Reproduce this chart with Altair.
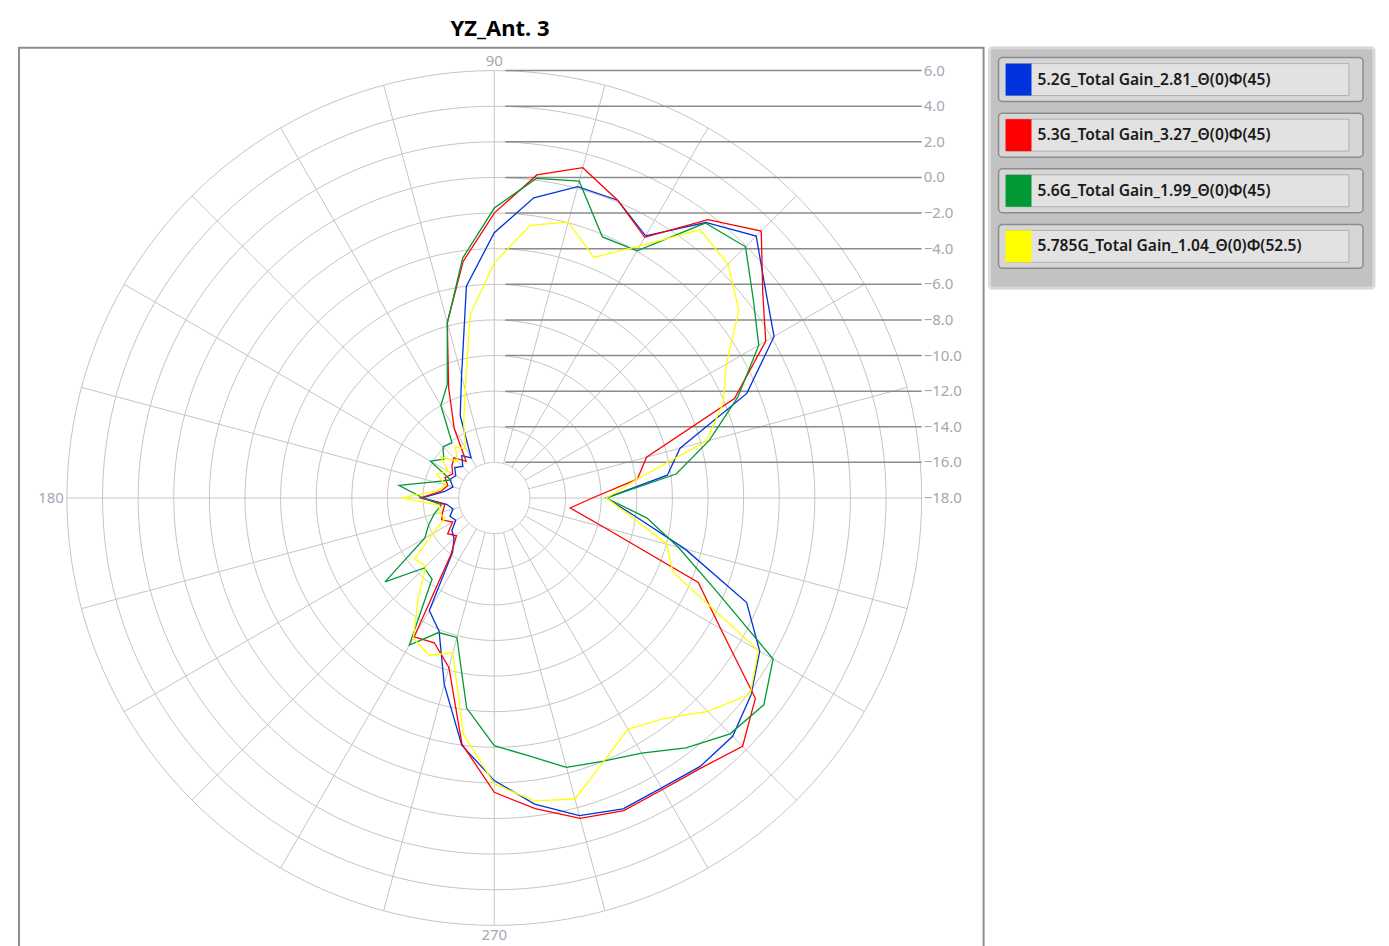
import pandas as pd
import altair as alt

# ---------------- data ----------------
angles = [0, 7.5, 15, 22.5, 30, 37.5, 45, 52.5, 60, 67.5, 75, 82.5,
          90, 97.5, 105, 112.5, 120, 127.5, 135, 142.5, 150, 157.5, 165, 172.5,
          180, 187.5, 195, 202.5, 210, 217.5, 225, 232.5, 240, 247.5, 255, 262.5,
          270, 277.5, 285, 292.5, 300, 307.5, 315, 322.5, 330, 337.5, 345, 352.5]

gain_52 = [-11.7, -8.2, -7.2, -2.65, 0.14, 1.2, 2.8, 1.5, -1.0, 0.1, 0.1, -1.0,
           -3.1, -6.0, -10.9, -13.0, -15.4, -15.0, -15.5, -15.2, -15.5, -15.3, -15.6, -15.2,
           -13.95, -15.3, -15.6, -15.3, -15.5, -15.0, -14.8, -14.15, -10.7, -9.9, -7.15, -4.0,
           -2.13, -0.66, 0.47, 0.9, 0.8, 1.0, 0.93, 0.17, -0.79, -2.66, -6.9, -10.0]

gain_53 = [-12.5, -9.9, -9.15, -3.4, -0.4, 1.0, 3.2, 1.7, -1.1, 0.1, 1.2, 0.3,
           -2.0, -4.6, -7.8, -11.3, -13.5, -15.4, -14.8, -15.0, -15.3, -15.0, -15.3, -15.0,
           -13.85, -15.2, -15.0, -14.8, -15.3, -14.7, -15.0, -14.0, -9.0, -9.2, -8.15, -4.07,
           -1.47, -0.4, 0.63, 1.0, 0.9, 1.1, 1.72, 0.48, -3.32, -5.6, -11.6, -13.7]

gain_56 = [-11.7, -7.7, -5.5, -3.2, -0.85, 0.33, 1.95, 1.46, -1.97, -2.13, 0.42, 0.1,
           -1.72, -4.41, -7.82, -11.1, -12.0, -14.1, -13.93, -14.42, -13.86, -15.35, -14.5, -12.6,
           -14.0, -15.0, -14.5, -14.0, -13.5, -10.26, -12.44, -12.26, -8.46, -9.82, -9.89, -6.1,
           -4.09, -3.4, -2.34, -2.0, -1.46, -0.31, 0.73, 1.08, 0.08, -4.59, -7.3, -9.35]

gain_5785 = [-11.7, -9.9, -5.67, -4.09, -2.95, -0.69, 0.56, 0.98, -1.66, -3.38, -1.96, -2.56,
             -4.8, -7.61, -11.7, -13.5, -14.8, -14.4, -15.1, -14.2, -15.0, -14.5, -15.2, -14.8,
             -12.8, -14.9, -14.8, -15.0, -14.0, -12.37, -12.57, -11.0, -8.91, -8.44, -9.0, -4.64,
             -1.94, -0.84, -0.5, -1.97, -3.0, -2.39, -1.05, 0.11, -0.87, -7.15, -7.97, -10.3]

series_names = ["5.2G_Total Gain_2.81_Θ(0)Φ(45)",
                "5.3G_Total Gain_3.27_Θ(0)Φ(45)",
                "5.6G_Total Gain_1.99_Θ(0)Φ(45)",
                "5.785G_Total Gain_1.04_Θ(0)Φ(52.5)"]
series_colors = ["#0033dd", "#ff0000", "#009933", "#ffff00"]
series_gains = [gain_52, gain_53, gain_56, gain_5785]

ring_levels = [-16, -14, -12, -10, -8, -6, -4, -2, 0, 2, 4, 6]
label_levels = [6, 4, 2, 0, -2, -4, -6, -8, -10, -12, -14, -16, -18]
spoke_angles = [0, 15, 30, 45, 60, 75, 90, 105, 120, 135, 150, 165,
                180, 195, 210, 225, 240, 255, 270, 285, 300, 315, 330, 345]
angle_labels = ["90", "180", "270"]

R_MIN = -18.0          # gain at the centre of the polar plot
FONT = "Noto Sans"
LABEL_GRAY = "#a6a6b4"

# ---------------- tables ----------------
rows = []
for name, gains in zip(series_names, series_gains):
    for a, g in zip(angles, gains):
        rows.append({"series": name, "angle": a, "gain": g})
df = pd.DataFrame(rows)

ring_df = pd.DataFrame([{"level": lv, "a": a} for lv in ring_levels for a in range(0, 361, 2)])
spoke_df = pd.DataFrame({"a": spoke_angles})
lab_df = pd.DataFrame({"level": label_levels})
ang_df = pd.DataFrame({"txt": angle_labels, "a": [90, 180, 270]})

# scale: 1 unit = 1 dB; 428 px for 24 dB
K = 428 / 24
XS = alt.Scale(domain=[-476 / K, 490 / K], nice=False, zero=False)
YS = alt.Scale(domain=[-459 / K, 451 / K], nice=False, zero=False)
COL = alt.Scale(domain=series_names, range=series_colors)

rings = alt.Chart(ring_df).transform_calculate(
    r=f"datum.level - ({R_MIN})"
).transform_calculate(
    px="datum.r*cos(datum.a*PI/180)", py="datum.r*sin(datum.a*PI/180)"
).mark_line(color="#c4c4c4", strokeWidth=1).encode(
    x=alt.X("px:Q", scale=XS, axis=None),
    y=alt.Y("py:Q", scale=YS, axis=None),
    detail="level:N", order="a:Q")

spokes = alt.Chart(spoke_df).transform_calculate(
    x1=f"({ring_levels[0]} - ({R_MIN}))*cos(datum.a*PI/180)",
    y1=f"({ring_levels[0]} - ({R_MIN}))*sin(datum.a*PI/180)",
    x2=f"({ring_levels[-1]} - ({R_MIN}))*cos(datum.a*PI/180)",
    y2=f"({ring_levels[-1]} - ({R_MIN}))*sin(datum.a*PI/180)",
).mark_rule(color="#c4c4c4", strokeWidth=1).encode(
    x=alt.X("x1:Q", scale=XS, axis=None), y=alt.Y("y1:Q", scale=YS, axis=None),
    x2="x2:Q", y2="y2:Q")

hlines = alt.Chart(lab_df).transform_filter(f"datum.level > {R_MIN}").transform_calculate(
    y=f"datum.level - ({R_MIN})",
    xa=f"{11 / K}",
    xb=f"{ring_levels[-1] - R_MIN}",
).mark_rule(color="#8a8a8a", strokeWidth=1.5).encode(
    x=alt.X("xa:Q", scale=XS, axis=None), x2="xb:Q",
    y=alt.Y("y:Q", scale=YS, axis=None))

hlabels = alt.Chart(lab_df).transform_calculate(
    y=f"datum.level - ({R_MIN})",
    xb=f"{ring_levels[-1] - R_MIN}",
).mark_text(align="left", baseline="middle", dx=2, fontSize=15, font=FONT,
            color=LABEL_GRAY).encode(
    x=alt.X("xb:Q", scale=XS, axis=None), y=alt.Y("y:Q", scale=YS, axis=None),
    text=alt.Text("level:Q", format=".1f"))

def ang_text(a, **kw):
    return alt.Chart(ang_df).transform_filter(f"datum.a == {a}").transform_calculate(
        px=f"({ring_levels[-1] - R_MIN})*cos(datum.a*PI/180)",
        py=f"({ring_levels[-1] - R_MIN})*sin(datum.a*PI/180)",
    ).mark_text(fontSize=15, font=FONT, color=LABEL_GRAY, **kw).encode(
        x=alt.X("px:Q", scale=XS, axis=None), y=alt.Y("py:Q", scale=YS, axis=None),
        text="txt:N")

a90 = ang_text(90, align="center", baseline="bottom", dy=-2)
a180 = ang_text(180, align="right", baseline="middle", dx=-3)
a270 = ang_text(270, align="center", baseline="top", dy=3)

traces = alt.Chart(df).transform_calculate(
    r=f"max(0, datum.gain - ({R_MIN}))"
).transform_calculate(
    px="datum.r*cos(datum.angle*PI/180)", py="datum.r*sin(datum.angle*PI/180)"
).mark_line(interpolate="linear-closed", strokeWidth=1.3).encode(
    x=alt.X("px:Q", scale=XS, axis=None),
    y=alt.Y("py:Q", scale=YS, axis=None),
    color=alt.Color("series:N", scale=COL, legend=None),
    order="angle:Q")

polar = alt.layer(rings, spokes, hlines, hlabels, a90, a180, a270, traces).properties(
    width=966, height=910,
    view=alt.ViewBackground(fill="white", stroke="#8e8e8e", strokeWidth=2))

# ---------------- legend panel ----------------
leg_df = pd.DataFrame({"series": series_names})
YL = alt.Scale(type="band", domain=series_names, range=[10, 221], paddingInner=0.21, paddingOuter=0)

leg_outer = alt.Chart(leg_df).mark_bar(cornerRadius=4, fill="#d6d6d6", stroke="#8c8c8c",
                                       strokeWidth=1.5).encode(
    x=alt.value(9), x2=alt.value(374), y=alt.Y("series:N", scale=YL, axis=None))
leg_inner = alt.Chart(leg_df).mark_bar(height=32, fill="#e2e2e2", stroke="#b0b0b0",
                                       strokeWidth=1).encode(
    x=alt.value(17), x2=alt.value(360), y=alt.Y("series:N", scale=YL, axis=None))
leg_swatch = alt.Chart(leg_df).mark_bar(height=32).encode(
    x=alt.value(16), x2=alt.value(42), y=alt.Y("series:N", scale=YL, axis=None),
    color=alt.Color("series:N", scale=COL, legend=None))
leg_text = alt.Chart(leg_df).mark_text(align="left", baseline="middle", fontSize=15.6,
                                       font=FONT, fontWeight=600, color="#1a1a1a").encode(
    x=alt.value(48), y=alt.Y("series:N", scale=YL, axis=None), text="series:N")

legend = alt.layer(leg_outer, leg_inner, leg_swatch, leg_text).properties(
    width=385, height=241,
    view=alt.ViewBackground(fill="#c2c2c2", stroke="#dadada", strokeWidth=3, cornerRadius=3))

chart = alt.hconcat(polar, legend, spacing=3).properties(
    title=alt.TitleParams("YZ_Ant. 3", anchor="middle", frame="bounds", dx=-197,
                          fontSize=22, font=FONT, fontWeight="bold", color="#000000",
                          offset=5),
    padding={"left": 10, "top": 9, "right": 5, "bottom": 5},
).configure_view(strokeWidth=0)

chart.save("out.html", embed_options={"renderer": "svg", "actions": False})
